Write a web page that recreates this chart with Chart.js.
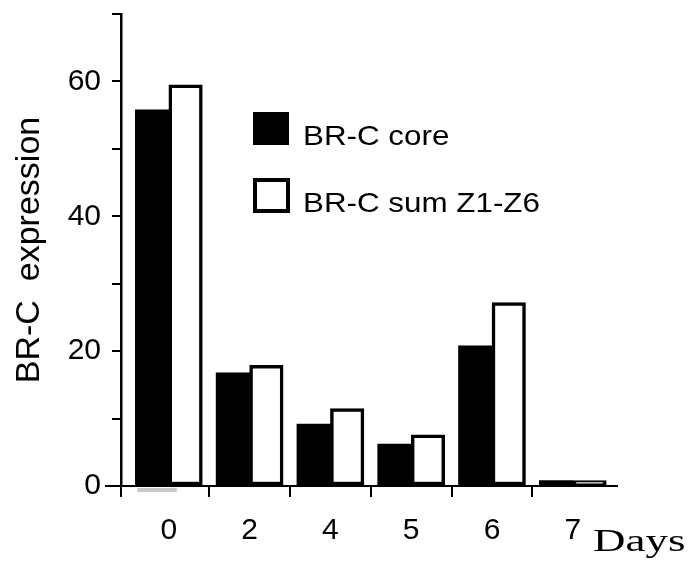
<!DOCTYPE html>
<html>
<head>
<meta charset="utf-8">
<script src="https://cdn.jsdelivr.net/npm/chart.js@4.4.1/dist/chart.umd.min.js"></script>
<style>
  html, body { margin: 0; padding: 0; background: #fff; }
  #wrap { width: 691px; height: 567px; }
</style>
</head>
<body>
<div id="wrap"><canvas id="brc" width="691" height="567"></canvas></div>
<script>
const days     = ['0', '2', '4', '5', '6', '7']
const brcCore  = [55.8, 16.8, 9.2, 6.2, 20.8, 0.8]
const brcSum   = [59.5, 17.9, 11.5, 7.6, 27.2, 0.8]
const yTicks   = [0, 10, 20, 30, 40, 50, 60, 70]
const yLabeled = [0, 20, 40, 60]

const FONT  = "'Liberation Sans', Arial, sans-serif"
const SERIF = "'Liberation Serif', 'Times New Roman', serif"
const xMin = -0.592, xMax = 5.547

Chart.defaults.color = '#000'
Chart.defaults.font.family = FONT

// legend, "Days" and the small extras drawn on top
const extras = {
  id: 'extras',
  afterDraw(chart) {
    const { ctx, scales } = chart
    const y0 = scales.y.getPixelForValue(0)
    ctx.save()

    // zero tick runs a bit further left
    ctx.strokeStyle = '#000'; ctx.lineWidth = 2
    ctx.beginPath(); ctx.moveTo(105, y0); ctx.lineTo(scales.y.right, y0); ctx.stroke()

    // faint grey smear under the first bar
    const b = chart.getDatasetMeta(0).data[0]
    ctx.fillStyle = '#c8c8c8'
    ctx.fillRect(b.x - b.width / 2 + 2, y0 + 2, b.width + 6, 4)

    // legend
    const ds = chart.data.datasets
    ctx.fillStyle = ds[0].backgroundColor
    ctx.fillRect(253, 112, 36, 33)
    ctx.fillStyle = ds[1].backgroundColor
    ctx.fillRect(255, 180, 33, 31)
    ctx.strokeStyle = ds[1].borderColor; ctx.lineWidth = 4
    ctx.strokeRect(255, 180, 33, 31)

    ctx.fillStyle = '#000'
    ctx.font = '28px ' + FONT
    ctx.textBaseline = 'alphabetic'
    const rows = [[ds[0].label, 145], [ds[1].label, 212]]
    rows.forEach(([txt, base]) => {
      ctx.save(); ctx.translate(303, base); ctx.scale(1.12, 1)
      ctx.fillText(txt, 0, 0); ctx.restore()
    })

    // axis caption at the right end
    ctx.font = '31px ' + SERIF
    ctx.save(); ctx.translate(593, 551); ctx.scale(1.45, 1)
    ctx.fillText('Days', 0, 0); ctx.restore()

    ctx.restore()
  }
}

const xTickValues = [xMin]
days.forEach((d, i) => { xTickValues.push(i); if (i < days.length - 1) xTickValues.push(i + 0.5) })

new Chart(document.getElementById('brc'), {
  type: 'bar',
  data: {
    datasets: [
      {
        label: 'BR-C core',
        data: brcCore.map((v, i) => ({ x: i, y: v })),
        backgroundColor: '#000',
        borderWidth: 0,
        barThickness: 33.5,
      },
      {
        label: 'BR-C sum Z1-Z6',
        data: brcSum.map((v, i) => ({ x: i, y: v })),
        backgroundColor: '#fff',
        borderColor: '#000',
        borderWidth: 3.5,
        borderSkipped: false,
        barThickness: 33.5,
      },
    ],
  },
  options: {
    responsive: false,
    animation: false,
    layout: { padding: { top: 14, right: 74, left: 0, bottom: 0 } },
    plugins: { legend: { display: false }, tooltip: { enabled: false } },
    scales: {
      x: {
        type: 'linear', min: xMin, max: xMax, offset: false,
        afterBuildTicks: axis => { axis.ticks = xTickValues.map(value => ({ value })) },
        afterFit: s => { s.height = 81; s.paddingLeft = 0; s.paddingRight = 0 },
        grid: {
          offset: false, drawOnChartArea: false, drawTicks: true, tickLength: 11, lineWidth: 2,
          color: c => (c.tick && Number.isInteger(c.tick.value)) ? 'rgba(0,0,0,0)' : '#000',
        },
        border: { display: true, color: '#000', width: 2 },
        ticks: {
          autoSkip: false, maxRotation: 0, minRotation: 0, padding: 16,
          font: { family: FONT, size: 30 }, color: '#000',
          callback: v => Number.isInteger(v) ? days[v] : '',
        },
      },
      y: {
        min: 0, max: 70,
        afterBuildTicks: axis => { axis.ticks = yTicks.map(value => ({ value })) },
        afterFit: s => { s.width = 121; s.paddingTop = 0; s.paddingBottom = 0 },
        grid: { drawOnChartArea: false, drawTicks: true, tickLength: 9, lineWidth: 2, color: '#000' },
        border: { display: true, color: '#000', width: 2.5 },
        ticks: {
          padding: 11, font: { family: FONT, size: 30 }, color: '#000',
          callback: v => yLabeled.includes(v) ? String(v) : '',
        },
        title: {
          display: true, text: 'BR-C  expression',
          font: { family: FONT, size: 34 }, color: '#000',
          padding: { top: 9, bottom: 0 },
        },
      },
    },
  },
  plugins: [extras],
})
</script>
</body>
</html>
